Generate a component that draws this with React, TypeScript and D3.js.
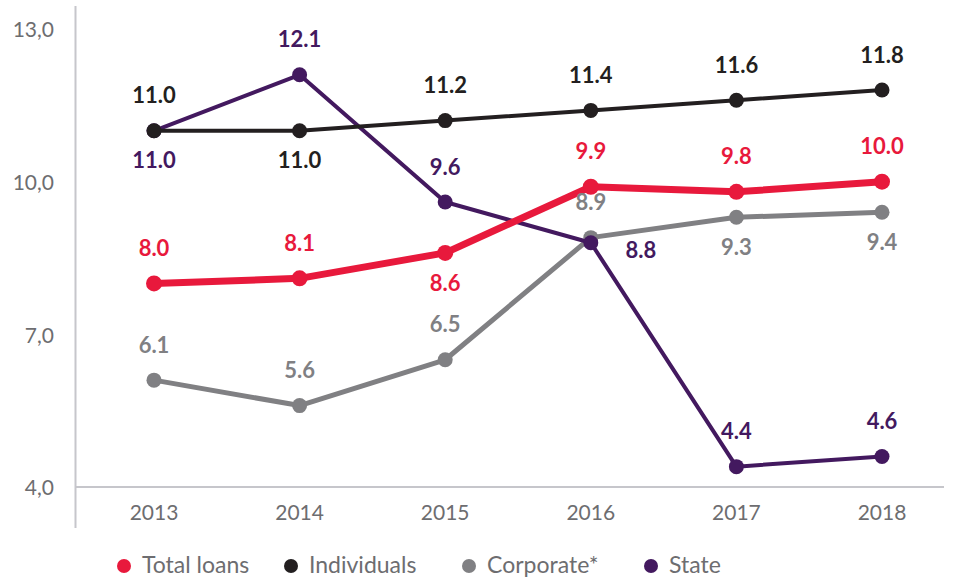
import React from "react";
import * as d3 from "d3";

const years = ["2013", "2014", "2015", "2016", "2017", "2018"];
const totalLoans = [8.0, 8.1, 8.6, 9.9, 9.8, 10.0];
const individuals = [11.0, 11.0, 11.2, 11.4, 11.6, 11.8];
const corporate = [6.1, 5.6, 6.5, 8.9, 9.3, 9.4];
const state = [11.0, 12.1, 9.6, 8.8, 4.4, 4.6];
const yTicks = [4, 7, 10, 13];

// label placement: "a" above, "b" below, "r" right-below
const totalPos = ["a", "a", "b", "a", "a", "a"];
const indPos = ["a", "b", "a", "a", "a", "a"];
const corpPos = ["a", "a", "a", "a", "b", "b"];
const statePos = ["b", "a", "a", "r", "a", "a"];

const series = [
  { name: "Total loans", values: totalLoans, color: "#e8193c", width: 7, r: 8, pos: totalPos },
  { name: "Individuals", values: individuals, color: "#231f20", width: 4, r: 7.5, pos: indPos },
  { name: "Corporate*", values: corporate, color: "#808083", width: 5, r: 7.5, pos: corpPos },
  { name: "State", values: state, color: "#43195f", width: 4, r: 7.5, pos: statePos },
];
const drawOrder = [2, 3, 1, 0];

const FONT = "Lato, 'Open Sans', sans-serif";

export default function App() {
  const W = 958, H = 582;
  const x = d3.scalePoint<string>().domain(years).range([154, 882]);
  const y = d3.scaleLinear().domain([4, 13]).range([487, 29]);
  const line = d3.line<number>().x((_, i) => x(years[i])!).y((d) => y(d));

  return (
    <svg width={W} height={H} style={{ position: "absolute", left: 0, top: 0, fontFamily: FONT }}>
      <rect width={W} height={H} fill="#fff" />
      {/* axes */}
      <line x1={75.5} x2={75.5} y1={6} y2={528} stroke="#c6c6cb" strokeWidth={2} />
      <line x1={75} x2={944} y1={487} y2={487} stroke="#c6c6cb" strokeWidth={2} />
      {yTicks.map((t) => (
        <text key={t} x={54} y={y(t) + 3} textAnchor="end" dominantBaseline="middle" fontSize={21} fill="#6d6d70">
          {t.toFixed(1).replace(".", ",")}
        </text>
      ))}
      {years.map((yr) => (
        <text key={yr} x={x(yr)} y={515} textAnchor="middle" dominantBaseline="middle" fontSize={21} fill="#6d6d70">
          {yr}
        </text>
      ))}
      {/* lines */}
      {drawOrder.map((si) => {
        const s = series[si];
        return (
          <g key={s.name}>
            <path d={line(s.values)!} fill="none" stroke={s.color} strokeWidth={s.width} strokeLinejoin="round" />
            {s.values.map((v, i) => (
              <circle key={i} cx={x(years[i])} cy={y(v)} r={s.r} fill={s.color} />
            ))}
          </g>
        );
      })}
      {/* labels */}
      {series.map((s) =>
        s.values.map((v, i) => {
          const px = x(years[i])!;
          const py = y(v);
          const p = s.pos[i];
          let lx = px, ly = py - 33;
          if (p === "b") ly = py + 32;
          if (p === "r") { lx = px + 50; ly = py + 10; }
          return (
            <text key={s.name + i} x={lx} y={ly} textAnchor="middle" dominantBaseline="middle" fontSize={22} fontWeight={700} fill={s.color}>
              {v.toFixed(1)}
            </text>
          );
        })
      )}
      {/* legend */}
      {series.map((s, i) => {
        const lx = [124, 291, 469, 651][i];
        return (
          <g key={s.name}>
            <circle cx={lx} cy={566} r={7} fill={s.color} />
            <text x={lx + 18} y={567} dominantBaseline="middle" fontSize={23} fill="#6d6d70">
              {s.name}
            </text>
          </g>
        );
      })}
    </svg>
  );
}
